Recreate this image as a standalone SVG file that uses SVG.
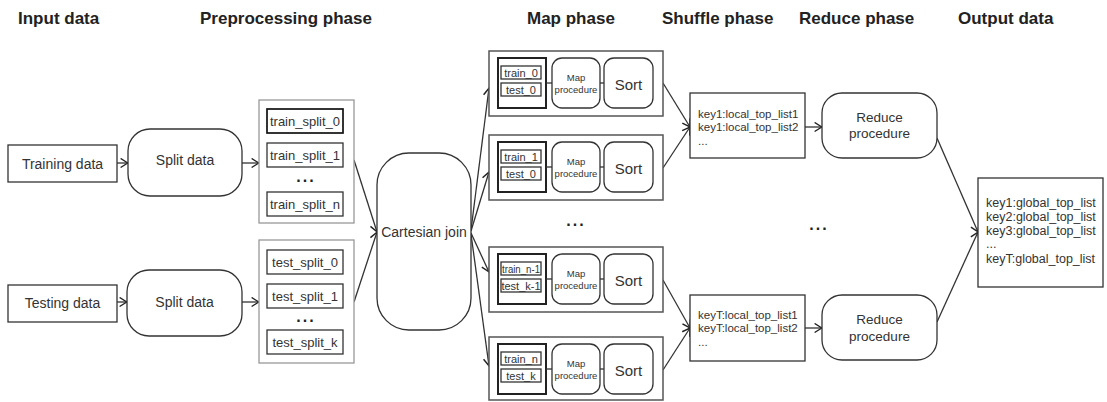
<svg xmlns="http://www.w3.org/2000/svg" width="1107" height="402" viewBox="0 0 1107 402">
<defs>
<style>
.h{font-family:"Liberation Sans",Arial,sans-serif;font-weight:bold;font-size:17px;fill:#222}
.t{font-family:"Liberation Sans",Arial,sans-serif;font-size:14px;fill:#333;text-anchor:middle;dominant-baseline:central}
.s{font-family:"Liberation Sans",Arial,sans-serif;font-size:13px;fill:#333;text-anchor:middle;dominant-baseline:central}
.m{font-family:"Liberation Sans",Arial,sans-serif;font-size:11px;fill:#333;text-anchor:middle;dominant-baseline:central}
.mp{font-family:"Liberation Sans",Arial,sans-serif;font-size:9.5px;fill:#333;text-anchor:middle;dominant-baseline:central}
.l{font-family:"Liberation Sans",Arial,sans-serif;font-size:11.5px;fill:#333}
.o{font-family:"Liberation Sans",Arial,sans-serif;font-size:12.5px;fill:#333}
.d{font-family:"Liberation Sans",Arial,sans-serif;font-weight:bold;font-size:16px;fill:#222;text-anchor:middle;letter-spacing:2px}
.box{fill:#fff;stroke:#333;stroke-width:1.3}
.grp{fill:#fff;stroke:#999;stroke-width:1.3}
.outer{fill:#fff;stroke:#555;stroke-width:1.5}
.stack{fill:#fff;stroke:#222;stroke-width:2}
.cn{fill:none;stroke:#333;stroke-width:1.3}
.ar{fill:none;stroke:#333;stroke-width:1.3;marker-end:url(#arr)}
</style>
<marker id="arr" viewBox="0 0 10 12" refX="9.2" refY="6" markerWidth="9" markerHeight="11" markerUnits="userSpaceOnUse" orient="auto">
<path d="M1,1 L9,6 L1,11" fill="none" stroke="#222" stroke-width="1.6"/>
</marker>
</defs>

<g id="headers">
<text class="h" x="18" y="24">Input data</text>
<text class="h" x="200" y="24">Preprocessing phase</text>
<text class="h" x="527" y="24">Map phase</text>
<text class="h" x="662" y="24">Shuffle phase</text>
<text class="h" x="799" y="24">Reduce phase</text>
<text class="h" x="958" y="24">Output data</text>
</g>

<g id="connectors">
<line class="ar" x1="117" y1="163" x2="128" y2="163"/>
<line class="ar" x1="117" y1="302" x2="127" y2="302"/>
<line class="ar" x1="242" y1="163" x2="259" y2="163"/>
<line class="ar" x1="242" y1="302" x2="259" y2="302"/>
<line class="ar" x1="354" y1="160" x2="377" y2="232"/>
<line class="ar" x1="354" y1="302" x2="377" y2="232"/>
<line class="ar" x1="471" y1="230" x2="489" y2="88"/>
<line class="ar" x1="471" y1="231" x2="489" y2="172"/>
<line class="ar" x1="471" y1="233" x2="489" y2="272"/>
<line class="ar" x1="471" y1="234" x2="489" y2="366"/>
<line class="ar" x1="663" y1="83" x2="690" y2="127"/>
<line class="ar" x1="663" y1="168" x2="690" y2="127"/>
<line class="ar" x1="663" y1="280" x2="690" y2="328"/>
<line class="ar" x1="663" y1="370" x2="690" y2="328"/>
<line class="ar" x1="805" y1="127" x2="822" y2="127"/>
<line class="ar" x1="805" y1="328" x2="822" y2="328"/>
<line class="ar" x1="937" y1="138" x2="978" y2="232"/>
<line class="ar" x1="937" y1="322" x2="978" y2="232"/>
</g>

<g id="training-data">
<rect class="box" x="8" y="145" width="109" height="37"/>
<text class="t" x="62.5" y="164">Training data</text>
</g>
<g id="testing-data">
<rect class="box" x="8" y="285" width="109" height="37"/>
<text class="t" x="62.5" y="303">Testing data</text>
</g>

<g id="split-train">
<rect class="box" x="128" y="129" width="114" height="67" rx="22"/>
<text class="t" x="185" y="160">Split data</text>
</g>
<g id="split-test">
<rect class="box" x="127" y="270" width="115" height="66" rx="22"/>
<text class="t" x="184.5" y="302">Split data</text>
</g>

<g id="train-splits">
<rect class="grp" x="259" y="100" width="95" height="123"/>
<rect class="box" x="267" y="109" width="76" height="24" style="stroke-width:1.7;stroke:#111"/>
<text class="s" x="305" y="121">train_split_0</text>
<rect class="box" x="267" y="143" width="76" height="24"/>
<text class="s" x="305" y="155">train_split_1</text>
<text class="d" x="306" y="182">...</text>
<rect class="box" x="267" y="192" width="76" height="24"/>
<text class="s" x="305" y="204">train_split_n</text>
</g>

<g id="test-splits">
<rect class="grp" x="259" y="240" width="95" height="123"/>
<rect class="box" x="267" y="250" width="76" height="24"/>
<text class="s" x="305" y="262">test_split_0</text>
<rect class="box" x="267" y="284" width="76" height="24"/>
<text class="s" x="305" y="296">test_split_1</text>
<text class="d" x="306" y="322">...</text>
<rect class="box" x="267" y="330" width="76" height="24"/>
<text class="s" x="305" y="342">test_split_k</text>
</g>

<g id="cartesian-join">
<rect class="box" x="377" y="153" width="94" height="177" rx="32"/>
<text class="t" x="424" y="232">Cartesian join</text>
</g>

<g id="map-1" transform="translate(0,51)">
<rect class="outer" x="489" y="0" width="174" height="65"/>
<rect class="stack" x="498" y="7" width="48" height="50"/>
<rect class="box" x="501" y="15" width="40" height="13"/>
<text class="m" x="521" y="21.5">train_0</text>
<rect class="box" x="501" y="32" width="40" height="13"/>
<text class="m" x="521" y="38.5">test_0</text>
<line class="cn" x1="546" y1="32" x2="552" y2="32"/>
<rect class="box" x="552" y="7" width="48" height="50" rx="10"/>
<text class="mp" x="576" y="26">Map</text>
<text class="mp" x="576" y="38">procedure</text>
<line class="cn" x1="600" y1="32" x2="604" y2="32"/>
<rect class="box" x="604" y="7" width="49" height="50" rx="10"/>
<text class="t" x="628.5" y="33" style="font-size:15px">Sort</text>
</g>

<g id="map-2" transform="translate(0,135)">
<rect class="outer" x="489" y="0" width="174" height="65"/>
<rect class="stack" x="498" y="7" width="48" height="50"/>
<rect class="box" x="501" y="15" width="40" height="13"/>
<text class="m" x="521" y="21.5">train_1</text>
<rect class="box" x="501" y="32" width="40" height="13"/>
<text class="m" x="521" y="38.5">test_0</text>
<line class="cn" x1="546" y1="32" x2="552" y2="32"/>
<rect class="box" x="552" y="7" width="48" height="50" rx="10"/>
<text class="mp" x="576" y="26">Map</text>
<text class="mp" x="576" y="38">procedure</text>
<line class="cn" x1="600" y1="32" x2="604" y2="32"/>
<rect class="box" x="604" y="7" width="49" height="50" rx="10"/>
<text class="t" x="628.5" y="33" style="font-size:15px">Sort</text>
</g>

<text class="d" x="576" y="226">...</text>

<g id="map-3" transform="translate(0,247)">
<rect class="outer" x="489" y="0" width="174" height="65"/>
<rect class="stack" x="498" y="7" width="48" height="50"/>
<rect class="box" x="501" y="15" width="40" height="13"/>
<text class="m" x="521" y="21.5" textLength="38" lengthAdjust="spacingAndGlyphs">train_n-1</text>
<rect class="box" x="501" y="32" width="40" height="13"/>
<text class="m" x="521" y="38.5">test_k-1</text>
<line class="cn" x1="546" y1="32" x2="552" y2="32"/>
<rect class="box" x="552" y="7" width="48" height="50" rx="10"/>
<text class="mp" x="576" y="26">Map</text>
<text class="mp" x="576" y="38">procedure</text>
<line class="cn" x1="600" y1="32" x2="604" y2="32"/>
<rect class="box" x="604" y="7" width="49" height="50" rx="10"/>
<text class="t" x="628.5" y="33" style="font-size:15px">Sort</text>
</g>

<g id="map-4" transform="translate(0,337)">
<rect class="outer" x="489" y="0" width="174" height="63"/>
<rect class="stack" x="498" y="7" width="48" height="50"/>
<rect class="box" x="501" y="15" width="40" height="13"/>
<text class="m" x="521" y="21.5">train_n</text>
<rect class="box" x="501" y="32" width="40" height="13"/>
<text class="m" x="521" y="38.5">test_k</text>
<line class="cn" x1="546" y1="32" x2="552" y2="32"/>
<rect class="box" x="552" y="7" width="48" height="50" rx="10"/>
<text class="mp" x="576" y="26">Map</text>
<text class="mp" x="576" y="38">procedure</text>
<line class="cn" x1="600" y1="32" x2="604" y2="32"/>
<rect class="box" x="604" y="7" width="49" height="50" rx="10"/>
<text class="t" x="628.5" y="33" style="font-size:15px">Sort</text>
</g>

<g id="shuffle-1">
<rect class="box" x="690" y="93" width="115" height="65"/>
<text class="l" x="698" y="118">key1:local_top_list1</text>
<text class="l" x="698" y="131">key1:local_top_list2</text>
<text class="l" x="698" y="145">...</text>
</g>
<g id="shuffle-2">
<rect class="box" x="690" y="295" width="115" height="66"/>
<text class="l" x="698" y="319">keyT:local_top_list1</text>
<text class="l" x="698" y="332">keyT:local_top_list2</text>
<text class="l" x="698" y="346">...</text>
</g>

<g id="reduce-1">
<rect class="box" x="822" y="93" width="115" height="65" rx="20"/>
<text class="t" x="879.5" y="117" style="font-size:13.5px">Reduce</text>
<text class="t" x="879.5" y="133" style="font-size:13.5px">procedure</text>
</g>
<text class="d" x="819" y="230">...</text>
<g id="reduce-2">
<rect class="box" x="822" y="295" width="115" height="65" rx="20"/>
<text class="t" x="879.5" y="319" style="font-size:13.5px">Reduce</text>
<text class="t" x="879.5" y="336" style="font-size:13.5px">procedure</text>
</g>

<g id="output">
<rect class="box" x="978" y="178" width="125" height="109"/>
<text class="o" x="986" y="207">key1:global_top_list</text>
<text class="o" x="986" y="221">key2:global_top_list</text>
<text class="o" x="986" y="235">key3:global_top_list</text>
<text class="o" x="986" y="248">...</text>
<text class="o" x="986" y="263">keyT:global_top_list</text>
</g>
</svg>
